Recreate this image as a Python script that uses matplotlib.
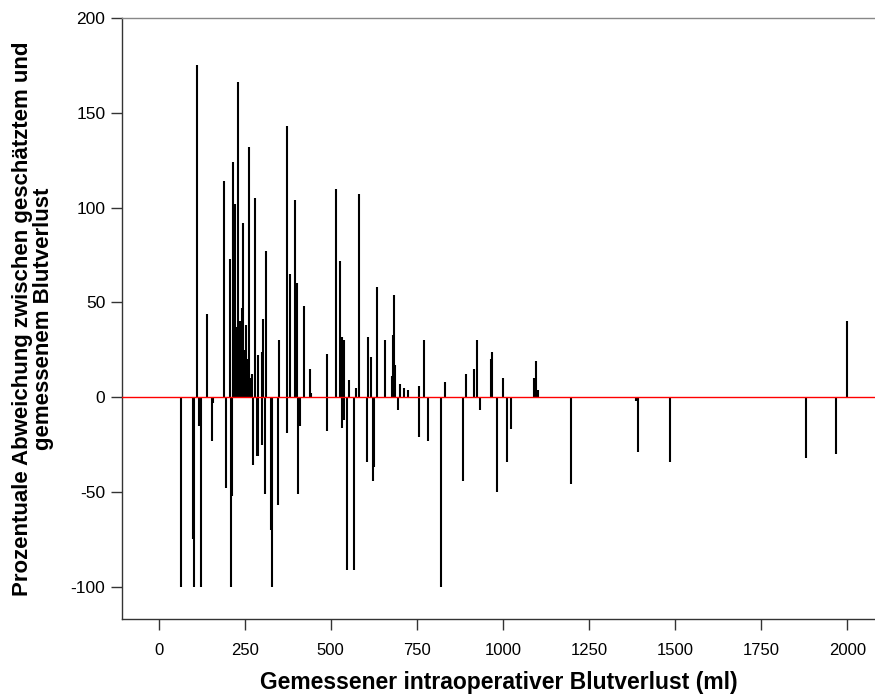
import matplotlib
matplotlib.use("Agg")
import matplotlib.pyplot as plt

# Measured blood loss (ml) and percentage deviation of estimate
blood_loss_ml = [
    65, 99, 103, 117, 123, 154, 157, 195, 210, 213, 273, 285, 290, 299, 309,
    327, 330, 346, 372, 404, 412, 488, 534, 538, 546, 568, 604, 622, 626, 696,
    756, 782, 819, 883, 934, 984, 1011, 1024, 1197, 1386, 1392, 1485, 1880, 1966,
    113, 142, 191, 207, 215, 222, 226, 230, 236, 241, 245, 250, 255, 258, 263,
    267, 270, 281, 289, 300, 303, 313, 349, 374, 381, 395, 401, 423, 439, 443,
    490, 515, 526, 532, 539, 553, 572, 581, 608, 618, 634, 657, 677, 681, 684,
    686, 702, 712, 723, 756, 771, 832, 893, 917, 925, 964, 968, 1001, 1090, 1097,
    1102, 2000,
]
deviation_pct = [
    -100, -75, -100, -15, -100, -23, -3, -48, -100, -52, -36, -31, -31, -25, -51,
    -70, -100, -57, -19, -51, -15, -18, -16, -12, -91, -91, -34, -44, -37, -7,
    -21, -23, -100, -44, -7, -50, -34, -17, -46, -2, -29, -34, -32, -30,
    175, 44, 114, 73, 124, 102, 37, 166, 40, 47, 92, 25, 38, 20, 132,
    10, 12, 105, 22, 24, 41, 77, 30, 143, 65, 104, 60, 48, 15, 2,
    23, 110, 72, 32, 30, 9, 5, 107, 32, 21, 58, 30, 11, 33, 54,
    17, 7, 5, 4, 6, 30, 8, 12, 15, 30, 20, 24, 10, 10, 19,
    4, 40,
]

x_ticks = [0, 250, 500, 750, 1000, 1250, 1500, 1750, 2000]
y_ticks = [-100, -50, 0, 50, 100, 150, 200]

plt.rcParams['font.family'] = ['Liberation Sans', 'DejaVu Sans']
plt.rcParams['axes.unicode_minus'] = False

fig = plt.figure(figsize=(8.75, 7), dpi=100)
ax = fig.add_axes([122/875, 81/700, 1 - 122/875, (619-18)/700])

ax.vlines(blood_loss_ml, 0, deviation_pct, colors='black', linewidth=1.5, zorder=2)
ax.axhline(0, color='red', linewidth=1.0, zorder=3)

ax.set_xlim(-106, 2080)
ax.set_ylim(-117, 200)
ax.set_xticks(x_ticks)
ax.set_yticks(y_ticks)
ax.tick_params(axis='both', length=8, width=1, color='#333333')
ax.tick_params(axis='x', labelsize=12, pad=9)
ax.tick_params(axis='y', labelsize=12.5, pad=4)

for s in ['left', 'bottom']:
    ax.spines[s].set_color('#333333')
    ax.spines[s].set_linewidth(1.0)
ax.spines['top'].set_color('#888888')
ax.spines['top'].set_linewidth(1.0)
ax.spines['right'].set_visible(False)

ax.set_xlabel('Gemessener intraoperativer Blutverlust (ml)', fontsize=16.5,
              fontweight='bold', labelpad=10)
ax.set_ylabel('Prozentuale Abweichung zwischen geschätztem und\ngemessenem Blutverlust',
              fontsize=16, fontweight='bold', labelpad=12, linespacing=1.0)

fig.savefig('out.png', dpi=100)
